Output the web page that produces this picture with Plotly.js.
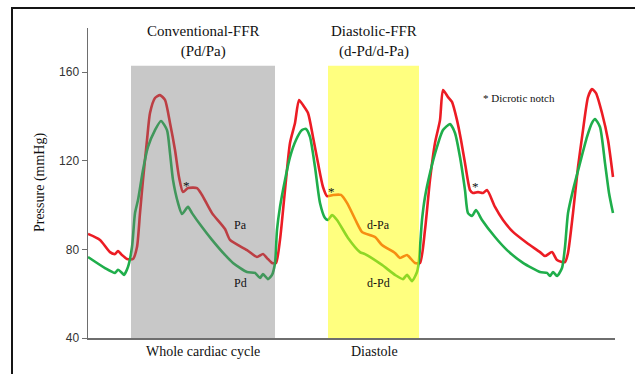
<!DOCTYPE html>
<html>
<head>
<meta charset="utf-8">
<script src="https://cdn.plot.ly/plotly-3.0.1.min.js"></script>
<style>
  html, body { margin: 0; padding: 0; background: #fff; overflow: hidden; }
  #chart { width: 635px; height: 374px; }
  #frame { position: absolute; left: 11px; top: 7px; width: 700px; height: 420px;
           border-left: 2px solid #151515; border-top: 2px solid #151515; pointer-events: none; }
</style>
</head>
<body>
<div id="chart"></div>
<div id="frame"></div>
<script>
// time axis in arbitrary units (left edge of the axis = 0)
const paTime = [0,12,22,27,30,34,39,45,49,52,55,59,62,67,72,77,82,87,91,95,100,109,114,124,137,142,159,169,175,179,184,188,192,197,202,207,211,215,220,225,230,235,239,245,253,259,269,274,287,294,307,312,319,323,327,332,337,342,347,352,355,360,364,369,373,377,382,385,390,395,399,407,415,425,439,452,457,464,469,477,480,485,490,495,500,504,508,514,520,525];
const paPressure = [87.0,84.3,78.8,77.9,79.3,77.5,75.7,75.7,81.1,96.4,111.4,129.4,141.6,148.4,149.7,147.5,137.1,124.9,112.7,105.9,107.7,107.7,104.6,96.4,89.2,84.3,79.7,76.6,77.9,76.1,73.9,73.9,84.3,106.8,128.1,137.1,147.5,145.2,141.6,130.8,119.0,108.2,104.1,104.6,104.6,101.0,91.9,87.9,85.6,82.0,78.4,76.1,77.5,75.7,73.9,73.9,88.8,111.4,128.1,138.4,152.0,148.8,146.6,138.4,129.4,119.0,106.8,105.5,105.9,105.5,106.8,99.2,93.3,87.9,82.9,78.8,77.0,78.8,75.2,74.3,78.4,96.4,117.2,133.9,148.8,152.4,150.6,141.6,129.4,112.7];

const pdTime = [0,17,27,30,34,36,40,44,47,50,55,60,67,73,79,82,85,90,94,100,104,114,124,137,145,159,167,172,175,180,184,187,189,192,197,202,208,214,218,222,227,232,237,240,244,249,260,272,277,294,307,315,319,324,329,331,334,337,342,349,355,362,367,372,377,380,384,388,394,407,419,435,452,459,462,465,469,474,477,480,485,492,499,504,507,512,517,521,525];
const pdPressure = [76.6,71.6,69.4,70.8,69.4,68.5,72.1,81.1,96.4,102.3,115.9,126.3,133.9,138.0,133.9,123.5,111.4,101.0,96.0,99.2,96.4,90.1,84.3,77.5,73.9,69.8,69.4,67.1,68.9,66.6,68.5,73.9,88.8,99.2,111.4,121.7,129.4,133.9,134.4,130.8,117.2,101.0,94.2,93.3,95.5,93.3,85.2,78.8,77.9,73.0,68.5,66.6,68.5,65.7,69.8,75.2,93.3,103.7,114.5,126.3,133.9,136.6,132.6,121.7,106.8,96.4,95.1,97.8,93.3,85.6,79.7,73.9,69.8,69.4,68.0,69.8,68.0,71.6,81.1,96.4,106.8,119.0,130.8,137.1,138.9,135.3,119.0,105.5,96.4];

const wholeCycle = [43, 187];
const diastole = [240, 331];
const boxTop = 163;
const yTicks = [40, 80, 120, 160];
const seriesLabels = ['Pa', 'Pd', 'd-Pa', 'd-Pd'];
const notchPoints = {x: [98, 243, 387], y: [108.8, 106.0, 108.3]};

const serif = 'Liberation Serif, Times New Roman, serif';
const sans = 'Liberation Sans, Arial, sans-serif';

const traces = [
  {x: paTime, y: paPressure, mode: 'lines', line: {color: '#ec1c24', width: 2.6, shape: 'spline', smoothing: 0.6}, hoverinfo: 'skip'},
  {x: pdTime, y: pdPressure, mode: 'lines', line: {color: '#1fae4b', width: 2.6, shape: 'spline', smoothing: 0.6}, hoverinfo: 'skip'}
];

const ann = [];
function t(x, y, text, size, xref, yref, extra) {
  ann.push(Object.assign({x: x, y: y, xref: xref || 'x', yref: yref || 'y', text: text, showarrow: false,
    xanchor: 'center', yanchor: 'middle',
    font: {family: serif, size: size, color: '#111'}}, extra || {}));
}
t(115, 0.955, 'Conventional-FFR<br>(Pd/Pa)', 15, 'x', 'paper');
t(286, 0.955, 'Diastolic-FFR<br>(d-Pd/d-Pa)', 15, 'x', 'paper');
t(115, -0.042, 'Whole cardiac cycle', 14, 'x', 'paper');
t(286, -0.042, 'Diastole', 14, 'x', 'paper');
t(431, 148.4, '* Dicrotic notch', 11);
t(152, 91.0, seriesLabels[0], 12);
t(152, 64.8, seriesLabels[1], 12);
t(290, 91.0, seriesLabels[2], 12);
t(290, 64.8, seriesLabels[3], 12);
for (let i = 0; i < notchPoints.x.length; i++) t(notchPoints.x[i], notchPoints.y[i], '*', 13);
t(-0.091, 0.5, 'Pressure (mmHg)', 14, 'paper', 'paper', {textangle: -90});

const layout = {
  width: 635, height: 374,
  margin: {l: 88, r: 20, t: 28, b: 36},
  paper_bgcolor: '#fff', plot_bgcolor: '#fff',
  showlegend: false,
  xaxis: {range: [0, 527], showgrid: false, zeroline: false, showticklabels: false, ticks: '',
          showline: true, linecolor: '#6e6e6e', linewidth: 1.5, fixedrange: true},
  yaxis: {range: [40, 180], showgrid: false, zeroline: false, tickvals: yTicks, ticks: 'outside',
          ticklen: 5, tickcolor: '#6e6e6e', tickwidth: 1, showline: true, linecolor: '#6e6e6e', linewidth: 1.5,
          tickfont: {family: sans, size: 12, color: '#333'}, fixedrange: true},
  shapes: [
    {type: 'rect', xref: 'x', yref: 'y', x0: wholeCycle[0], x1: wholeCycle[1], y0: 40, y1: boxTop,
     fillcolor: '#767676', opacity: 0.4, line: {width: 0}, layer: 'above'},
    {type: 'rect', xref: 'x', yref: 'y', x0: diastole[0], x1: diastole[1], y0: 40, y1: boxTop,
     fillcolor: '#ffff00', opacity: 0.5, line: {width: 0}, layer: 'above'}
  ],
  annotations: ann
};

Plotly.newPlot('chart', traces, layout, {displayModeBar: false, staticPlot: true});
</script>
</body>
</html>
